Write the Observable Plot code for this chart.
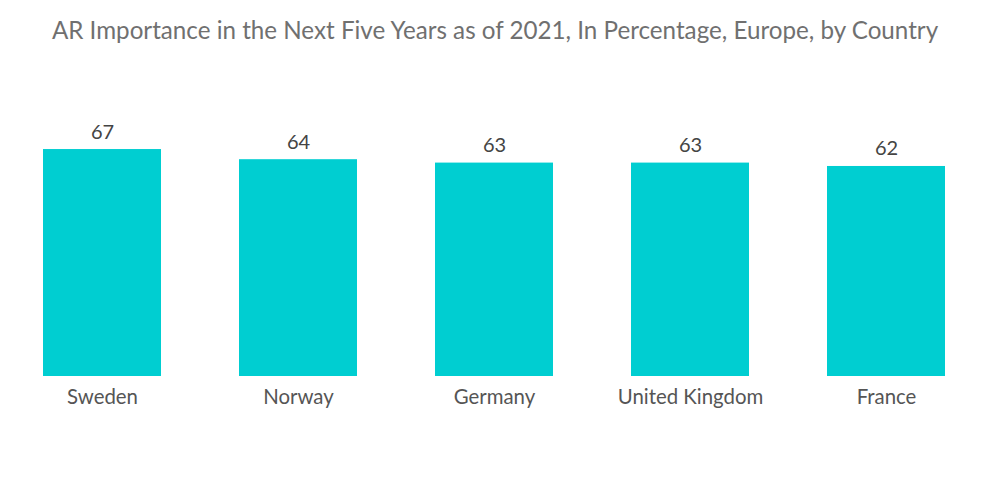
<!DOCTYPE html>
<html>
<head>
<meta charset="utf-8">
<script src="https://cdn.jsdelivr.net/npm/d3@7"></script>
<script src="https://cdn.jsdelivr.net/npm/@observablehq/plot@0.6"></script>
<style>
  html, body { margin: 0; padding: 0; background: #fff; }
  #title { height: 60px; line-height: 60px; text-align: center; padding-right: 10px; font-family: Lato, "Open Sans", sans-serif; font-size: 24.2px; color: #707070; white-space: nowrap; }
  #chart svg { display: block; }
</style>
</head>
<body>
<div id="title">AR Importance in the Next Five Years as of 2021, In Percentage, Europe, by Country</div>
<div id="chart"></div>
<script>
const countries = ["Sweden", "Norway", "Germany", "United Kingdom", "France"];
const values = [67, 64, 63, 63, 62];
const data = countries.map((c, i) => ({country: c, value: values[i]}));

const chart = Plot.plot({
  width: 1000,
  height: 444,
  marginLeft: 4,
  marginRight: 16,
  marginTop: 45,
  marginBottom: 128,
  style: {fontFamily: "Lato, 'Open Sans', sans-serif", background: "#fff"},
  x: {domain: countries, paddingInner: 0.398, paddingOuter: 0.199, label: null},
  y: {domain: [0, 80], axis: null},
  marks: [
    Plot.barY(data, {x: "country", y: "value", fill: "#00CED1"}),
    Plot.text(data, {x: "country", y: "value", text: d => String(d.value), dy: -11, lineAnchor: "bottom", fontSize: 20, fill: "#444"}),
    Plot.axisX({tickSize: 0, tickPadding: 13, fontSize: 20.4, color: "#555", label: null})
  ]
});
document.getElementById("chart").appendChild(chart);
</script>
</body>
</html>
